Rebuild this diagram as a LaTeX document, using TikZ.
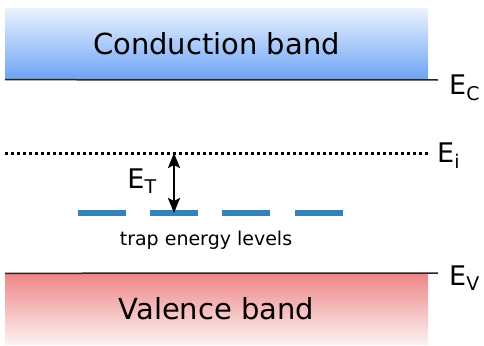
\documentclass[tikz,border=0pt]{standalone}
\usepackage{fontspec}
\setmainfont{DejaVu Sans}
\usetikzlibrary{arrows.meta}

\definecolor{cbtop}{RGB}{234,242,253}
\definecolor{cbbot}{RGB}{108,163,244}
\definecolor{vbtop}{RGB}{239,134,134}
\definecolor{vbbot}{RGB}{252,242,242}
\definecolor{trapblue}{RGB}{49,130,189}

\tikzset{
  band/.style={rectangle, inner sep=0pt, minimum width=423pt, minimum height=71pt,
    font=\fontsize{29}{33}\selectfont},
  edge/.style={line width=1.5pt, black!85},
  elabel/.style={anchor=west, inner sep=0pt, font=\fontsize{27}{30}\selectfont},
  trapdash/.style={draw=trapblue, line width=6.5pt},
  gaptip/.tip={Stealth[length=15pt, width=12pt, inset=3pt]},
  gaparrow/.style={gaptip-gaptip, line width=2.6pt}
}

\begin{document}
\begin{tikzpicture}[x=1pt, y=-1pt]
  \useasboundingbox (0,0) rectangle (484,345);

  % bands
  \node[band, top color=cbtop, bottom color=cbbot] (cb) at (216.5,44) {Conduction band};
  \node[band, top color=vbtop, bottom color=vbbot] (vb) at (216.5,309) {Valence band};

  % band edges
  \coordinate (ec) at (438,80);
  \coordinate (ev) at (438,273);
  \draw[edge] (cb.south west) -- (ec);
  \draw[edge] (vb.north west) -- (ev);
  \node[elabel] at (449,88) {E\textsubscript{C}};
  \node[elabel] at (449,278) {E\textsubscript{V}};

  % intrinsic level
  \coordinate (eil) at (5,153);
  \coordinate (eir) at (428,153);
  \draw[line width=3pt, dash pattern=on 3pt off 3pt] (eil) -- (eir);
  \node[elabel] at (437,156) {E\textsubscript{i}};

  % trap levels
  \foreach \i/\x in {1/102,2/174,3/246,4/319} {
    \coordinate (t\i) at (\x,213);
    \draw[trapdash] (\x-24,213) -- (\x+24,213);
  }
  \node[font=\fontsize{19}{22}\selectfont] (trap) at (206,240) {trap energy levels};

  % trap depth
  \coordinate (ea) at (174,153);
  \draw[gaparrow] (ea) -- (t2);
  \node[font=\fontsize{27}{30}\selectfont] (et) at (142,181) {E\textsubscript{T}};
\end{tikzpicture}
\end{document}
